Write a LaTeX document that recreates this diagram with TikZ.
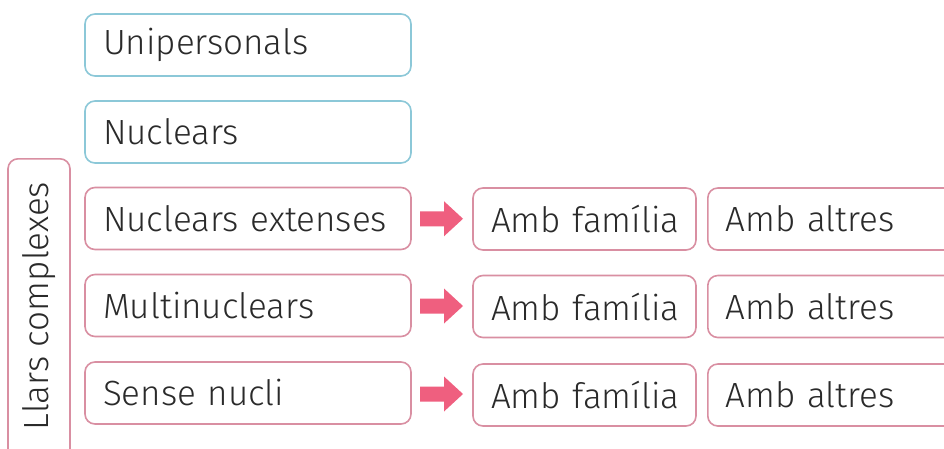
\documentclass[tikz,border=0pt]{standalone}
\usepackage{fontspec}
\setmainfont{Fira Sans}[UprightFont=* Light]
\usetikzlibrary{calc}
\definecolor{blueln}{HTML}{8CC8D8}
\definecolor{pinkln}{HTML}{D98FA2}
\definecolor{arrowfill}{HTML}{EF5F7F}
\definecolor{txt}{HTML}{2A2A2A}
\tikzset{
  box/.style={draw, rounded corners=10pt, line width=1.6pt, minimum height=62pt,
    inner xsep=18pt, inner ysep=0pt, align=left, text=txt,
    font=\fontsize{35}{40}\selectfont},
  bluebox/.style={box, draw=blueln, text width=290pt},
  pinkbox/.style={box, draw=pinkln, text width=290pt},
  fambox/.style={box, draw=pinkln, text width=187pt},
  altbox/.style={box, draw=pinkln, text width=210pt},
  pics/blockarrow/.style={code={
    \fill[arrowfill] (-22,-7.5) -- (2,-7.5) -- (2,-17.5) -- (21,0) -- (2,17.5) -- (2,7.5) -- (-22,7.5) -- cycle;
  }}
}
\begin{document}
\begin{tikzpicture}[x=1pt,y=-1pt]
\clip (0,0) rectangle (944,448);
\fill[white] (0,0) rectangle (944,448);
\node[bluebox] (uni) at (248,45) {Unipersonals};
\node[bluebox] (nuc) at (248,132) {Nuclears};
\node[pinkbox] (ne) at (248,218.5) {Nuclears extenses};
\node[pinkbox] (mul) at (248,305.5) {Multinuclears};
\node[pinkbox] (sn) at (248,393) {Sense nucli};
\node[fambox] (f1) at (584.5,219) {\mbox{Amb família}};
\node[fambox] (f2) at (584.5,306.5) {\mbox{Amb família}};
\node[fambox] (f3) at (584.5,395) {\mbox{Amb família}};
\node[altbox, anchor=west] (a1) at (707,219) {\mbox{Amb altres}};
\node[altbox, anchor=west] (a2) at (707,306.5) {\mbox{Amb altres}};
\node[altbox, anchor=west] (a3) at (707,395) {\mbox{Amb altres}};
\node[draw=pinkln, rounded corners=10pt, line width=1.6pt, minimum width=62pt, minimum height=310pt, inner sep=0pt, anchor=north] (llars) at (39,158) {};
\node[rotate=90, text=txt, font=\fontsize{35}{40}\selectfont] (llt) at (39,306) {Llars complexes};
\pic at ($(ne.east)!0.5!(f1.west)$) {blockarrow};
\pic at ($(mul.east)!0.5!(f2.west)$) {blockarrow};
\pic at ($(sn.east)!0.5!(f3.west)$) {blockarrow};
\end{tikzpicture}
\end{document}
